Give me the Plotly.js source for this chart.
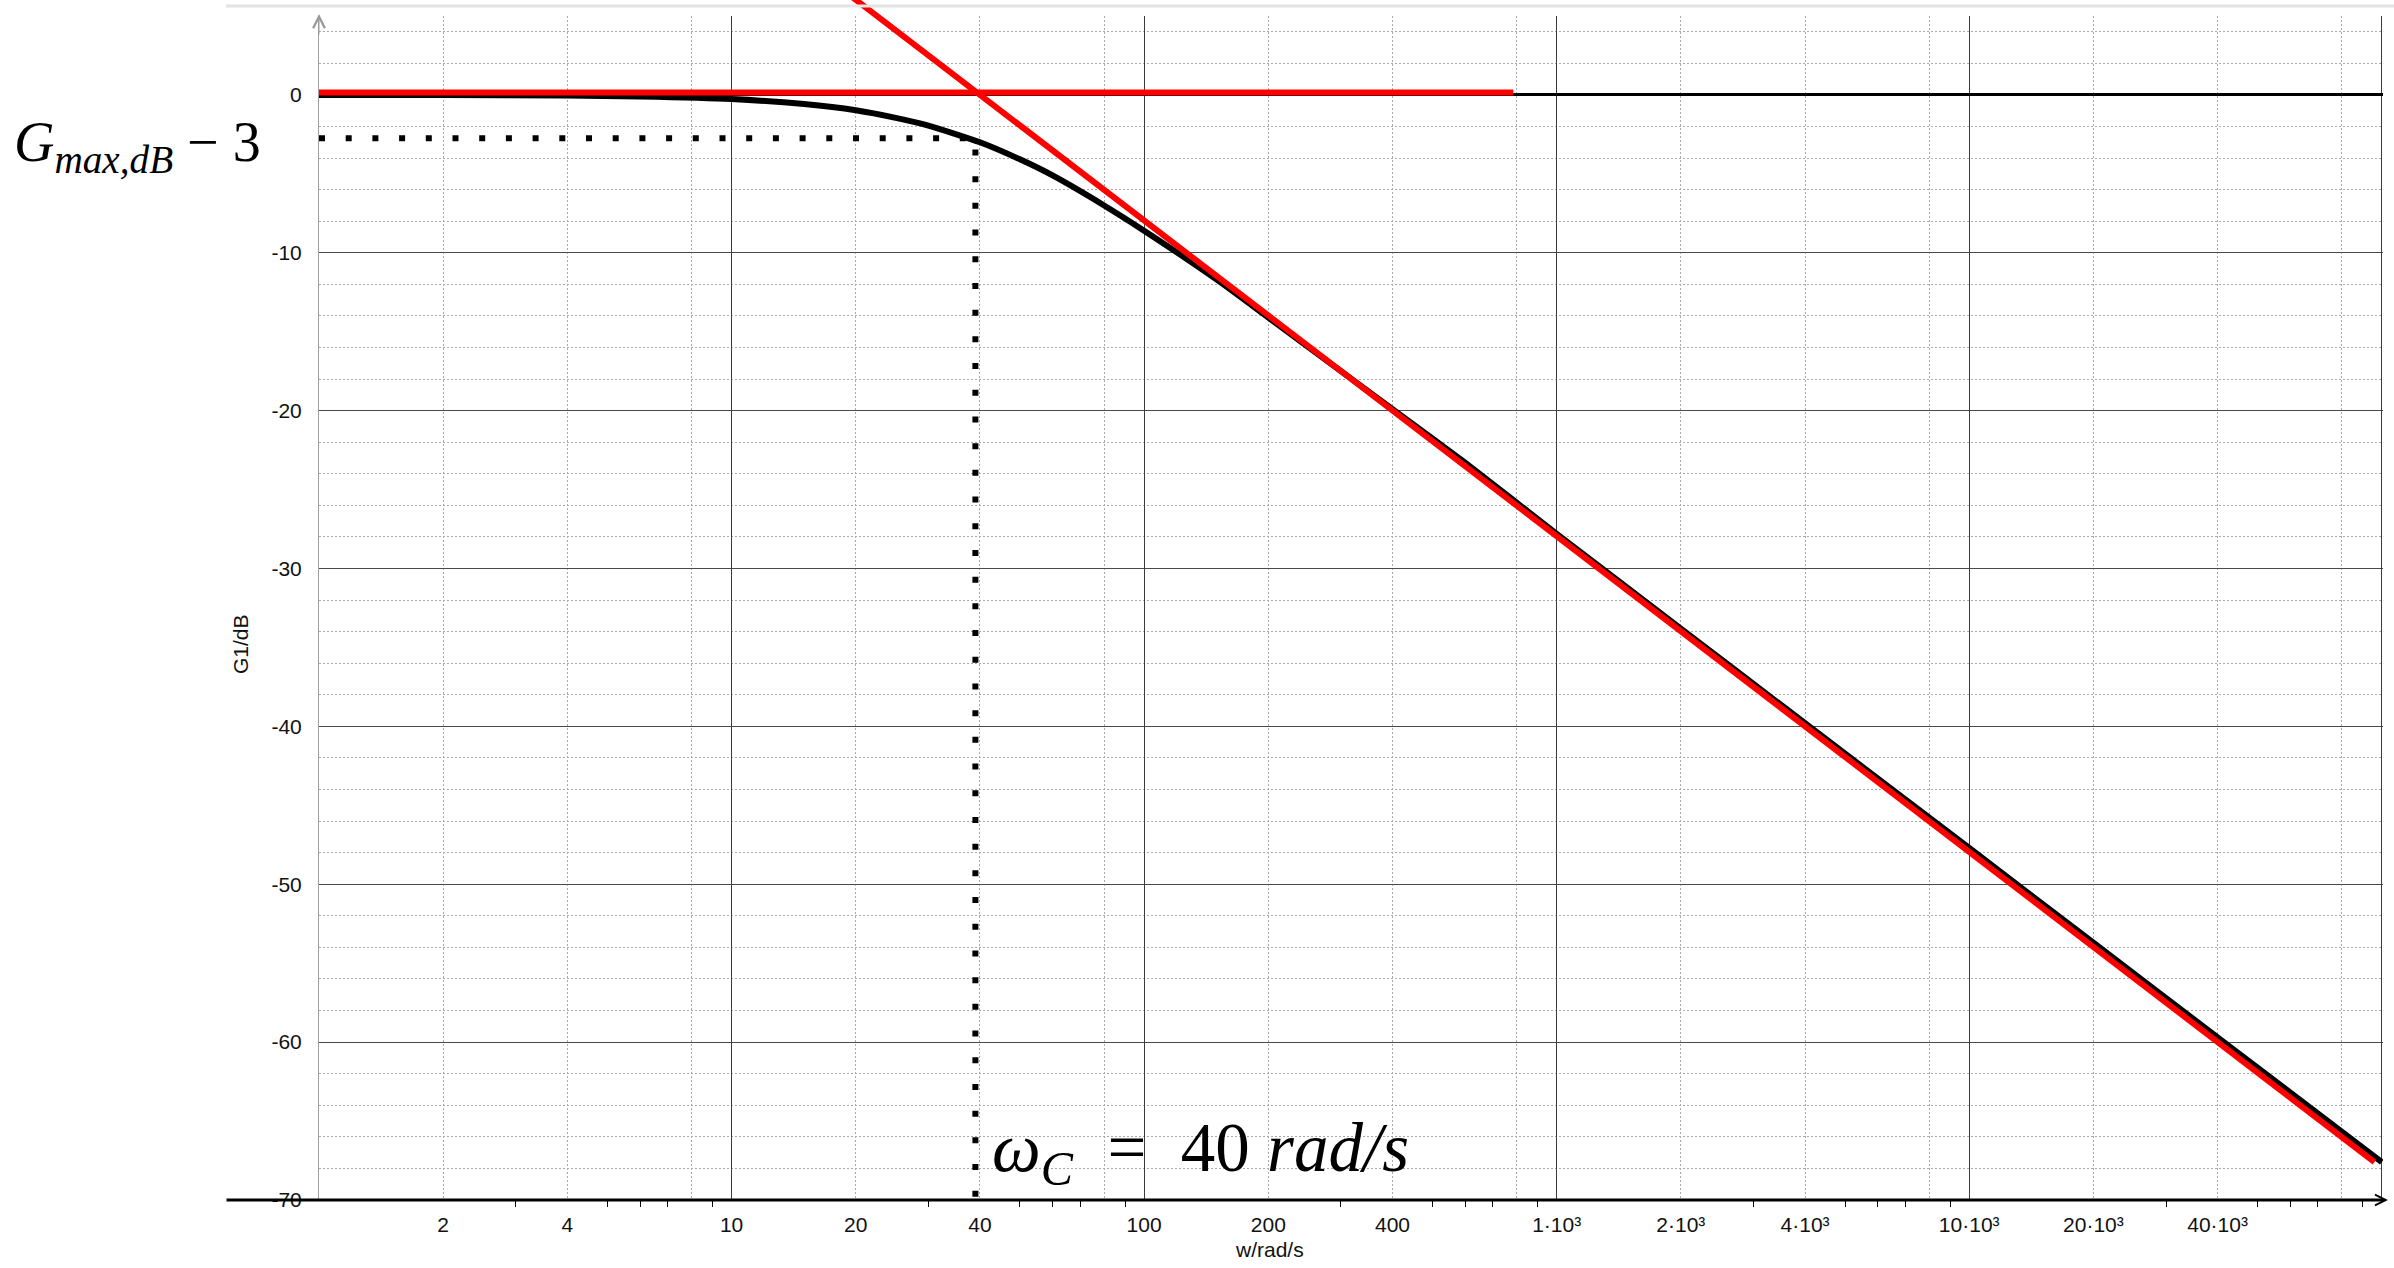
<!DOCTYPE html>
<html>
<head>
<meta charset="utf-8">
<script src="https://cdn.plot.ly/plotly-3.0.1.min.js"></script>
<style>html,body{margin:0;padding:0;background:#fff;}#chart{width:2394px;height:1268px;}</style>
</head>
<body>
<div id="chart"></div>
<script>
// ---- data ----
// black curve: measured gain G1 (dB) versus w (rad/s)
const wBlack = [1, 2, 4, 6, 10, 15, 20, 25, 30, 40, 50, 60, 80, 100, 150, 200, 300, 400, 600, 1000, 2000, 4000, 10000, 20000, 40000, 100000];
const gBlack = [0, -0.01, -0.04, -0.1, -0.26, -0.58, -0.97, -1.45, -1.94, -3.0, -4.08, -5.1, -7.0, -8.6, -11.7, -14.1, -17.5, -19.9, -23.3, -27.8, -33.8, -39.8, -47.7, -53.7, -59.7, -67.6];
// red asymptotes
const wRedFlat = [1, 785];
const gRedFlat = [0.15, 0.15];
const wRedSlope = [19.5, 96000];
const gRedSlope = [6.25, -67.6];
// dotted -3 dB construction line
const wDotted = [1, 39, 39];
const gDotted = [-2.75, -2.75, -70];

// axis ticks
const xGridVals = [1, 2, 4, 8, 10, 20, 40, 80, 100, 200, 400, 800, 1000, 2000, 4000, 8000, 10000, 20000, 40000, 80000];
const xGridText = ['', '2', '4', '', '10', '20', '40', '', '100', '200', '400', '', '1·10³', '2·10³', '4·10³', '', '10·10³', '20·10³', '40·10³', ''];
const xDecades = [10, 100, 1000, 10000, 100000];
const xMinorTicks = [3, 5, 6, 7, 9, 30, 50, 60, 70, 90, 300, 500, 600, 700, 900, 3000, 5000, 6000, 7000, 9000, 30000, 50000, 60000, 70000, 90000];
const yTickVals = [0, -10, -20, -30, -40, -50, -60, -70];
const yTickText = ['0', '-10', '-20', '-30', '-40', '-50', '-60', '-70'];

const xTitle = 'w/rad/s';
const yTitle = 'G1/dB';
const gLabel = '<i>G</i><sub><i>max,dB</i></sub> − 3';
const wLabel = '<i>ω</i><sub><i>C</i></sub>\u2002=\u200240 <i>rad/s</i>';

// ---- figure ----
const H = 1268, W = 2394;
const plotH = 1200; // paper height (t = 0, b = 68)
const xRange = [0, 5.003];

const traces = [
  {x: wBlack, y: gBlack, xaxis: 'x', yaxis: 'y', mode: 'lines',
   line: {color: '#000', width: 6, shape: 'spline', smoothing: 0.6}, hoverinfo: 'skip'},
  {x: wRedFlat, y: gRedFlat, xaxis: 'x', yaxis: 'y', mode: 'lines',
   line: {color: '#ff0000', width: 6}, hoverinfo: 'skip'},
  // dotted construction line lives on the overlay axis x3 (same log scale as x)
  {x: wDotted, y: gDotted, xaxis: 'x3', yaxis: 'y', mode: 'lines',
   line: {color: '#000', width: 6, dash: '6px,20.7px'}, hoverinfo: 'skip'},
  {x: wRedSlope, y: gRedSlope, xaxis: 'x2', yaxis: 'y2', mode: 'lines',
   line: {color: '#ff0000', width: 6}, hoverinfo: 'skip'}
];

const gridLight = '#a9a9a9';
const layout = {
  width: W, height: H,
  margin: {l: 319, r: 11, t: 0, b: 68, pad: 0},
  paper_bgcolor: '#fff', plot_bgcolor: 'rgba(0,0,0,0)',
  showlegend: false,
  font: {family: 'Liberation Sans, Arial, sans-serif', color: '#111', size: 21},
  xaxis: {
    type: 'log', range: xRange, domain: [0, 1], anchor: 'y',
    tickmode: 'array', tickvals: xGridVals, ticktext: xGridText,
    ticks: '', showgrid: true, gridcolor: gridLight, gridwidth: 1, griddash: '2px,2px',
    showline: false, zeroline: false, ticklabelstandoff: 10,
    tickfont: {size: 21, color: '#111'},
    minor: {tickmode: 'array', tickvals: xMinorTicks, ticks: 'outside', ticklen: 6, tickwidth: 1, tickcolor: '#000', showgrid: false}
  },
  xaxis3: {
    type: 'log', range: xRange, overlaying: 'x', anchor: 'y',
    tickmode: 'array', tickvals: xDecades, showticklabels: false, ticks: '',
    showgrid: true, gridcolor: '#3c3c3c', gridwidth: 1, zeroline: false, showline: false
  },
  yaxis: {
    range: [-70, 5], domain: [0, 1184 / 1200], anchor: 'x',
    tickmode: 'array', tickvals: yTickVals, ticktext: yTickText,
    ticks: '', showgrid: true, gridcolor: '#4a4a4a', gridwidth: 1,
    minor: {tickmode: 'linear', tick0: 0, dtick: 2, showgrid: true, gridcolor: gridLight, griddash: '2px,2px', gridwidth: 1},
    zeroline: true, zerolinecolor: '#000', zerolinewidth: 3,
    showline: true, linecolor: '#a0a0a0', linewidth: 1,
    ticklabelstandoff: 12, tickfont: {size: 21, color: '#111'}
  },
  xaxis2: {type: 'log', range: xRange, domain: [0, 1], anchor: 'y2', visible: false},
  yaxis2: {range: [-70, -70 + plotH / (1184 / 75)], domain: [0, 1], anchor: 'x2', visible: false},
  shapes: [
    {type: 'line', xref: 'paper', yref: 'paper', x0: (226 - 319) / 2064, x1: (2394 - 319) / 2064,
     y0: 1 - 6 / plotH, y1: 1 - 6 / plotH, line: {color: '#e4e4e4', width: 3}}
  ],
  annotations: [
    // x axis line with arrow (extends left past the plot)
    {xref: 'paper', yref: 'paper', x: 1 + 5 / 2064, y: 0, ax: -2163, ay: 0, axref: 'pixel', ayref: 'pixel',
     text: '', showarrow: true, arrowhead: 5, arrowsize: 0.7, arrowwidth: 3, arrowcolor: '#000', standoff: 0},
    // y axis arrow tip
    {xref: 'paper', yref: 'paper', x: 0, y: 1 - 14 / plotH, ax: 0, ay: 22,
     text: '', showarrow: true, arrowhead: 5, arrowsize: 2.3, arrowwidth: 1, arrowcolor: '#9a9a9a', standoff: 0},
    // axis titles
    {xref: 'paper', yref: 'paper', x: (1269 - 319) / 2064, y: 1 - 1249 / plotH, xanchor: 'center', yanchor: 'middle',
     text: xTitle, showarrow: false, font: {family: 'Liberation Sans, Arial, sans-serif', size: 21, color: '#111'}},
    {xref: 'paper', yref: 'paper', x: (240 - 319) / 2064, y: 1 - 644 / plotH, xanchor: 'center', yanchor: 'middle',
     text: yTitle, textangle: -90, showarrow: false, font: {family: 'Liberation Sans, Arial, sans-serif', size: 21, color: '#111'}},
    // math labels
    {xref: 'paper', yref: 'paper', x: (263 - 319) / 2064, y: 1 - 146 / plotH, xanchor: 'right', yanchor: 'middle',
     text: gLabel, showarrow: false, font: {family: 'Liberation Serif, serif', size: 56, color: '#000'}},
    {xref: 'paper', yref: 'paper', x: (990 - 319) / 2064, y: 1 - 1152 / plotH, xanchor: 'left', yanchor: 'middle',
     text: wLabel, showarrow: false, font: {family: 'Liberation Serif, serif', size: 69, color: '#000'}}
  ]
};

Plotly.newPlot('chart', traces, layout, {displayModeBar: false, staticPlot: true});
</script>
</body>
</html>
